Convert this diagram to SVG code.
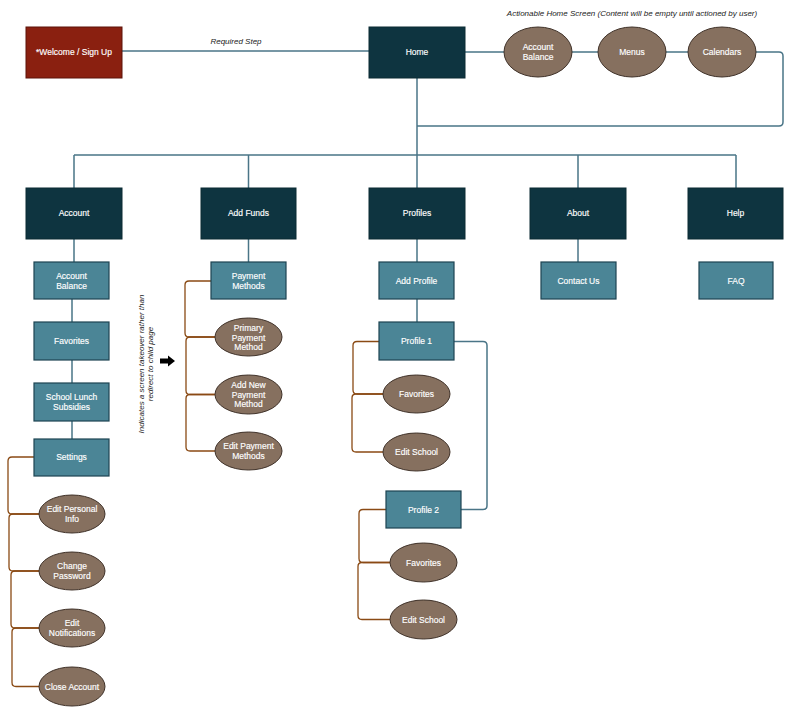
<svg xmlns="http://www.w3.org/2000/svg" width="800" height="719" viewBox="0 0 800 719">
<style>
.dark{fill:#0e3440;stroke:#0a2a33;stroke-width:1}
.mid{fill:#4b8596;stroke:#1d4452;stroke-width:1.2}
.red{fill:#8a2010;stroke:#5c1208;stroke-width:1}
.ell{fill:#86705f;stroke:#3f3128;stroke-width:1}
.t{font-family:"Liberation Sans",Arial,sans-serif;font-size:8.5px;fill:#ffffff;text-anchor:middle;stroke:#ffffff;stroke-width:0.15}
.note{font-family:"Liberation Sans",Arial,sans-serif;font-size:8px;font-style:italic;fill:#222222;text-anchor:middle}
.blue{fill:none;stroke:#4a7587;stroke-width:1.5}
.brown{fill:none;stroke:#8a4a14;stroke-width:1.3}
</style>
<rect width="800" height="719" fill="#ffffff"/>

<g id="connectors">
<path class="blue" d="M122,51 H369"/>
<path class="blue" d="M465,52 H504 M572,52 H598 M666,52 H688"/>
<path class="blue" d="M756,52 H779 Q783,52 783,56 V122 Q783,126 779,126 H417"/>
<path class="blue" d="M417,78 V188"/>
<path class="blue" d="M74,155 H736 M74,155 V188 M248.5,155 V188 M578,155 V188 M736,155 V188"/>
<path class="blue" d="M74,239 V262 M72,299 V322 M72,360 V383 M72,421 V439"/>
<path class="blue" d="M248.5,239 V262"/>
<path class="blue" d="M417,239 V262 M417,299 V322"/>
<path class="blue" d="M578,239 V262"/>
<path class="blue" d="M454,341.5 H483 Q487,341.5 487,345.5 V505.5 Q487,509.5 483,509.5 H461"/>

<path class="brown" d="M211,281 H189 Q185,281 185,285 V333 Q185,337 189,337 H215"/>
<path class="brown" d="M215,337 H190 Q186,337 186,341 V390.5 Q186,394.5 190,394.5 H215"/>
<path class="brown" d="M215,394.5 H190 Q186,394.5 186,398.5 V447 Q186,451 190,451 H215"/>

<path class="brown" d="M379,341.5 H357 Q353,341.5 353,345.5 V390 Q353,394 357,394 H383"/>
<path class="brown" d="M383,394 H356 Q352,394 352,398 V448 Q352,452 356,452 H383"/>

<path class="brown" d="M386,509.5 H363 Q359,509.5 359,513.5 V558.5 Q359,562.5 363,562.5 H390"/>
<path class="brown" d="M390,562.5 H362 Q358,562.5 358,566.5 V615.5 Q358,619.5 362,619.5 H390"/>

<path class="brown" d="M34,457 H12 Q8,457 8,461 V510 Q8,514 12,514 H39"/>
<path class="brown" d="M39,514 H13 Q9,514 9,518 V567 Q9,571 13,571 H39"/>
<path class="brown" d="M39,571 H15 Q11,571 11,575 V624 Q11,628 15,628 H39"/>
<path class="brown" d="M39,628 H16 Q12,628 12,632 V682.5 Q12,686.5 16,686.5 H39"/>
</g>

<text class="note" x="236" y="44">Required Step</text>
<text class="note" x="632" y="16">Actionable Home Screen (Content will be empty until actioned by user)</text>

<g id="welcome"><rect class="red" x="26" y="27" width="96" height="51"/><text class="t" x="74" y="55">*Welcome / Sign Up</text></g>
<g id="home"><rect class="dark" x="369" y="27" width="96" height="51"/><text class="t" x="417" y="55">Home</text></g>
<g id="top-account-balance"><ellipse class="ell" cx="538" cy="52" rx="34" ry="25"/><text class="t" x="538" y="50">Account</text><text class="t" x="538" y="59.5">Balance</text></g>
<g id="top-menus"><ellipse class="ell" cx="632" cy="52" rx="34" ry="25"/><text class="t" x="632" y="55">Menus</text></g>
<g id="top-calendars"><ellipse class="ell" cx="722" cy="52" rx="34" ry="25"/><text class="t" x="722" y="55">Calendars</text></g>

<g id="account"><rect class="dark" x="26" y="188" width="96" height="51"/><text class="t" x="74" y="216">Account</text></g>
<g id="add-funds"><rect class="dark" x="201" y="188" width="95" height="51"/><text class="t" x="248.5" y="216">Add Funds</text></g>
<g id="profiles"><rect class="dark" x="369" y="188" width="96" height="51"/><text class="t" x="417" y="216">Profiles</text></g>
<g id="about"><rect class="dark" x="530" y="188" width="96" height="51"/><text class="t" x="578" y="216">About</text></g>
<g id="help"><rect class="dark" x="688" y="188" width="95" height="51"/><text class="t" x="735.5" y="216">Help</text></g>

<g id="account-balance"><rect class="mid" x="34" y="262" width="75" height="37"/><text class="t" x="71.5" y="279">Account</text><text class="t" x="71.5" y="288.5">Balance</text></g>
<g id="favorites"><rect class="mid" x="34" y="322" width="75" height="38"/><text class="t" x="71.5" y="344">Favorites</text></g>
<g id="school-lunch"><rect class="mid" x="34" y="383" width="75" height="38"/><text class="t" x="71.5" y="400">School Lunch</text><text class="t" x="71.5" y="409.5">Subsidies</text></g>
<g id="settings"><rect class="mid" x="34" y="439" width="75" height="37"/><text class="t" x="71.5" y="460">Settings</text></g>
<g id="edit-personal-info"><ellipse class="ell" cx="72" cy="514" rx="33" ry="19"/><text class="t" x="72" y="512">Edit Personal</text><text class="t" x="72" y="521.5">Info</text></g>
<g id="change-password"><ellipse class="ell" cx="72" cy="571" rx="33" ry="19"/><text class="t" x="72" y="569">Change</text><text class="t" x="72" y="578.5">Password</text></g>
<g id="edit-notifications"><ellipse class="ell" cx="72" cy="628" rx="33" ry="19"/><text class="t" x="72" y="626">Edit</text><text class="t" x="72" y="635.5">Notifications</text></g>
<g id="close-account"><ellipse class="ell" cx="72" cy="686.5" rx="33" ry="19.5"/><text class="t" x="72" y="689.5">Close Account</text></g>

<g id="payment-methods"><rect class="mid" x="211" y="262" width="75" height="37"/><text class="t" x="248.5" y="279">Payment</text><text class="t" x="248.5" y="288.5">Methods</text></g>
<g id="primary-payment-method"><ellipse class="ell" cx="248.5" cy="337" rx="33.5" ry="19"/><text class="t" x="248.5" y="331">Primary</text><text class="t" x="248.5" y="340.5">Payment</text><text class="t" x="248.5" y="350">Method</text></g>
<g id="add-new-payment-method"><ellipse class="ell" cx="248.5" cy="394.5" rx="33.5" ry="19.5"/><text class="t" x="248.5" y="388">Add New</text><text class="t" x="248.5" y="397.5">Payment</text><text class="t" x="248.5" y="407">Method</text></g>
<g id="edit-payment-methods"><ellipse class="ell" cx="248.5" cy="451" rx="33.5" ry="19"/><text class="t" x="248.5" y="449">Edit Payment</text><text class="t" x="248.5" y="458.5">Methods</text></g>

<g id="add-profile"><rect class="mid" x="379" y="262" width="75" height="37"/><text class="t" x="416.5" y="284">Add Profile</text></g>
<g id="profile-1"><rect class="mid" x="379" y="322" width="75" height="38"/><text class="t" x="416.5" y="344">Profile 1</text></g>
<g id="p1-favorites"><ellipse class="ell" cx="416.5" cy="394" rx="33.5" ry="19"/><text class="t" x="416.5" y="397">Favorites</text></g>
<g id="p1-edit-school"><ellipse class="ell" cx="416.5" cy="452" rx="33.5" ry="19"/><text class="t" x="416.5" y="455">Edit School</text></g>
<g id="profile-2"><rect class="mid" x="386" y="491" width="75" height="37"/><text class="t" x="423.5" y="512.5">Profile 2</text></g>
<g id="p2-favorites"><ellipse class="ell" cx="423.5" cy="562.5" rx="33.5" ry="19.5"/><text class="t" x="423.5" y="565.5">Favorites</text></g>
<g id="p2-edit-school"><ellipse class="ell" cx="423.5" cy="619.5" rx="33.5" ry="19.5"/><text class="t" x="423.5" y="622.5">Edit School</text></g>

<g id="contact-us"><rect class="mid" x="541" y="262" width="75" height="37"/><text class="t" x="578.5" y="284">Contact Us</text></g>
<g id="faq"><rect class="mid" x="699" y="262" width="74" height="37"/><text class="t" x="736" y="284">FAQ</text></g>

<g id="legend">
<text class="note" transform="translate(144,364) rotate(-90)" y="0">Indicates a screen takeover rather than</text>
<text class="note" transform="translate(153,364) rotate(-90)" y="0">redirect to child page</text>
<polygon points="160,358.5 168,358.5 168,355.5 175,361 168,366.5 168,363.5 160,363.5" fill="#000000"/>
</g>
</svg>
